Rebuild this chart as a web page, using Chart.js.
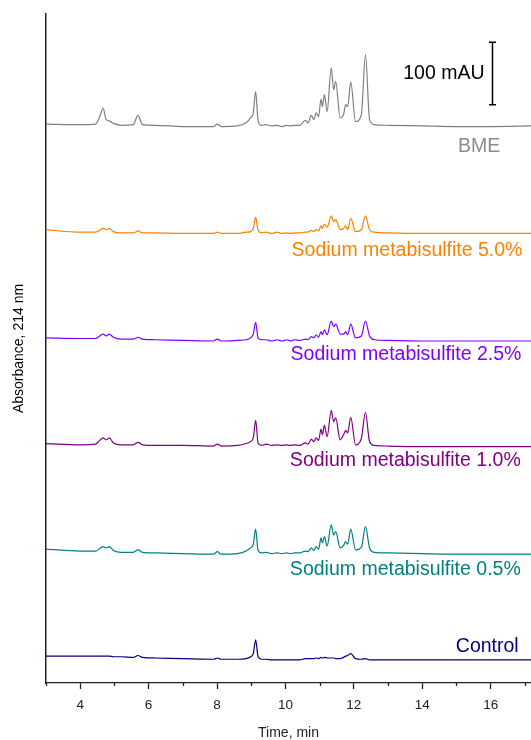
<!DOCTYPE html>
<html>
<head>
<meta charset="utf-8">
<script src="https://cdn.jsdelivr.net/npm/chart.js@4"></script>
<style>
  html, body { margin: 0; padding: 0; background: #fff; }
  #wrap { width: 531px; height: 740px; position: relative; }
</style>
</head>
<body>
<div id="wrap"><canvas id="chromChart"></canvas></div>
<script>
// - Retention times (min), shared by every trace

const times = [
  3.0, 4.0, 4.45, 4.57, 4.67, 4.76, 4.85, 4.97, 5.2, 5.55,
  5.69, 5.82, 6.2, 7.0, 7.9, 8.01, 8.12, 8.6, 8.85, 8.98,
  9.06, 9.13, 9.2, 9.3, 9.44, 9.6, 9.75, 9.9, 10.04, 10.15,
  10.26, 10.42, 10.58, 10.66, 10.76, 10.83, 10.9, 10.97, 11.04, 11.08,
  11.14, 11.22, 11.34, 11.41, 11.47, 11.6, 11.7, 11.76, 11.82, 11.91,
  12.05, 12.22, 12.34, 12.46, 12.6, 13.0, 14.0, 15.0, 16.0, 17.2
]

// - Absorbance above each trace's own baseline (mAU)

const bme = [
  4, 3, 4, 16, 29, 11, 9, 5, 2, 3,
  18, 3, 2, 0, 0, 4, 0, 1, 6, 14,
  22, 56, 10, 2, 3, 1, 2, 0, 2, 1,
  2, 2, 10, 6, 18, 11, 22, 16, 44, 32,
  51, 24, 94, 59, 72, 14, 19, 35, 32, 71,
  8, 19, 115, 11, 3, 2, 1, 0, 0, 1
]
const smb50 = [
  6, 2, 2, 5, 8, 6, 8, 3, 1, 1,
  4, 1, 1, 0, 0, 2, 0, 0, 2, 3,
  8, 26, 5, 1, 2, 0, 2, 0, 1, 0,
  1, 1, 2, 2, 5, 3, 6, 4, 12, 8,
  15, 10, 28, 19, 22, 6, 8, 12, 6, 24,
  3, 6, 28, 6, 2, 1, 0, 0, 0, 0
]
const smb25 = [
  5, 4, 4, 8, 11, 8, 11, 6, 3, 3,
  6, 3, 2, 1, 0, 3, 0, 1, 2, 5,
  11, 30, 5, 2, 2, 0, 2, 0, 2, 0,
  2, 1, 3, 2, 7, 5, 10, 6, 15, 10,
  18, 10, 32, 23, 27, 11, 11, 15, 10, 27,
  5, 8, 32, 8, 2, 1, 0, 0, 0, 0
]
const smb10 = [
  5, 3, 4, 10, 14, 11, 14, 6, 3, 3,
  7, 3, 2, 2, 1, 4, 1, 2, 5, 8,
  14, 42, 6, 2, 4, 2, 3, 2, 3, 2,
  3, 2, 6, 4, 12, 8, 14, 10, 28, 19,
  34, 16, 58, 40, 46, 11, 19, 26, 22, 47,
  3, 13, 55, 8, 2, 1, 0, 0, 0, 0
]
const smb05 = [
  8, 5, 5, 9, 12, 10, 12, 6, 3, 3,
  7, 3, 2, 1, 0, 4, 0, 1, 5, 10,
  16, 40, 6, 2, 3, 1, 2, 1, 2, 1,
  2, 2, 5, 4, 10, 6, 12, 8, 26, 18,
  28, 13, 47, 31, 36, 10, 14, 20, 16, 40,
  7, 11, 44, 10, 3, 2, 1, 0, 0, 0
]
const control = [
  6, 6, 6, 6, 6, 6, 6, 5, 5, 4,
  7, 4, 3, 2, 1, 3, 1, 1, 2, 5,
  10, 32, 5, 1, 1, 0, 0, 0, 0, 0,
  0, 0, 2, 2, 2, 2, 3, 2, 4, 3,
  4, 3, 3, 3, 2, 2, 4, 6, 7, 10,
  2, 1, 2, 0, 0, 0, 0, 0, 0, 0
]

const traces = [bme, smb50, smb25, smb10, smb05, control]
const seriesNames = [
  'BME',
  'Sodium metabisulfite 5.0%',
  'Sodium metabisulfite 2.5%',
  'Sodium metabisulfite 1.0%',
  'Sodium metabisulfite 0.5%',
  'Control'
]
// vertical stacking offset of each trace (mAU)
const baselines = [890, 719, 547, 378, 206, 37]
const xTickLabels = [4, 6, 8, 10, 12, 14, 16]
const scaleBarValue = 100 // mAU

// - Styles

const colors = ['#808080', '#FF8000', '#8000FF', '#800080', '#008080', '#000080']
const labelColors = ['#8C8C8C', '#FF8000', '#8000FF', '#800080', '#008080', '#000080']
// label anchors: right edge (min) and vertical centre (mAU)
const labelAnchors = [
  [16.28, 858], [16.93, 691], [16.9, 525], [16.88, 355], [16.88, 181], [16.82, 58]
]
const FONT = 'Arial, "Liberation Sans", sans-serif'

const datasets = traces.map((vals, i) => ({
  label: seriesNames[i],
  data: times.map((t, k) => ({ x: t, y: vals[k] + baselines[i] })),
  borderColor: colors[i],
  backgroundColor: colors[i],
  borderWidth: 1.2,
  pointRadius: 0,
  cubicInterpolationMode: 'monotone',
  fill: false
}))

const extras = {
  id: 'extras',
  afterDraw(chart) {
    const ctx = chart.ctx
    const xs = chart.scales.x
    const ys = chart.scales.y
    ctx.save()

    // minor ticks on odd minutes
    ctx.strokeStyle = '#222'
    ctx.lineWidth = 1.3
    for (let t = 3; t <= 17; t += 2) {
      const px = Math.round(xs.getPixelForValue(t)) + 0.5
      ctx.beginPath()
      ctx.moveTo(px, ys.bottom)
      ctx.lineTo(px, ys.bottom + 3)
      ctx.stroke()
    }

    // trace names
    ctx.font = '19.5px ' + FONT
    ctx.textAlign = 'right'
    ctx.textBaseline = 'middle'
    seriesNames.forEach((name, i) => {
      ctx.fillStyle = labelColors[i]
      ctx.fillText(name, xs.getPixelForValue(labelAnchors[i][0]), ys.getPixelForValue(labelAnchors[i][1]))
    })

    // scale bar
    const bx = Math.round(xs.getPixelForValue(16.04)) + 0.5
    const yLo = ys.getPixelForValue(925)
    const yHi = ys.getPixelForValue(925 + scaleBarValue)
    ctx.strokeStyle = '#000'
    ctx.lineWidth = 1.5
    ctx.beginPath()
    ctx.moveTo(bx, yLo); ctx.lineTo(bx, yHi)
    ctx.moveTo(bx - 3.5, yLo); ctx.lineTo(bx + 3.5, yLo)
    ctx.moveTo(bx - 3.5, yHi); ctx.lineTo(bx + 3.5, yHi)
    ctx.stroke()
    ctx.fillStyle = '#000'
    ctx.fillText(scaleBarValue + ' mAU', bx - 8, (yLo + yHi) / 2)

    ctx.restore()
  }
}

const config = {
  type: 'line',
  data: { datasets: datasets },
  options: {
    responsive: true,
    maintainAspectRatio: false,
    animation: false,
    layout: { padding: { top: 14, right: 0, bottom: 0, left: 0 } },
    plugins: {
      legend: { display: false },
      tooltip: { enabled: false }
    },
    scales: {
      x: {
        type: 'linear',
        min: 3,
        max: 17.18,
        afterFit: (s) => { s.height = 57; s.paddingLeft = 0; s.paddingRight = 0 },
        border: { display: true, color: '#222', width: 1.3 },
        grid: {
          display: true,
          drawOnChartArea: false,
          drawTicks: true,
          tickLength: 6,
          tickWidth: 1.3,
          tickColor: (c) => (c.tick && xTickLabels.includes(c.tick.value)) ? '#222' : 'rgba(0,0,0,0)'
        },
        ticks: {
          stepSize: 1,
          autoSkip: false,
          maxRotation: 0,
          padding: 8,
          color: '#222',
          font: { family: FONT, size: 13.5 },
          callback: (v) => xTickLabels.includes(v) ? String(v) : ''
        },
        title: {
          display: true,
          text: 'Time, min',
          color: '#222',
          font: { family: FONT, size: 14, lineHeight: 1 },
          padding: { top: 0, bottom: 0 }
        }
      },
      y: {
        type: 'linear',
        min: 0,
        max: 1070,
        afterFit: (s) => { s.width = 46 },
        border: { display: true, color: '#222', width: 1.5 },
        grid: { display: false },
        ticks: { display: false },
        title: {
          display: true,
          text: 'Absorbance, 214 nm',
          color: '#000',
          font: { family: FONT, size: 14 },
          padding: { top: 11, bottom: 0 }
        }
      }
    }
  },
  plugins: [extras]
}

const chromChart = new Chart(document.getElementById('chromChart'), config)
</script>
</body>
</html>
